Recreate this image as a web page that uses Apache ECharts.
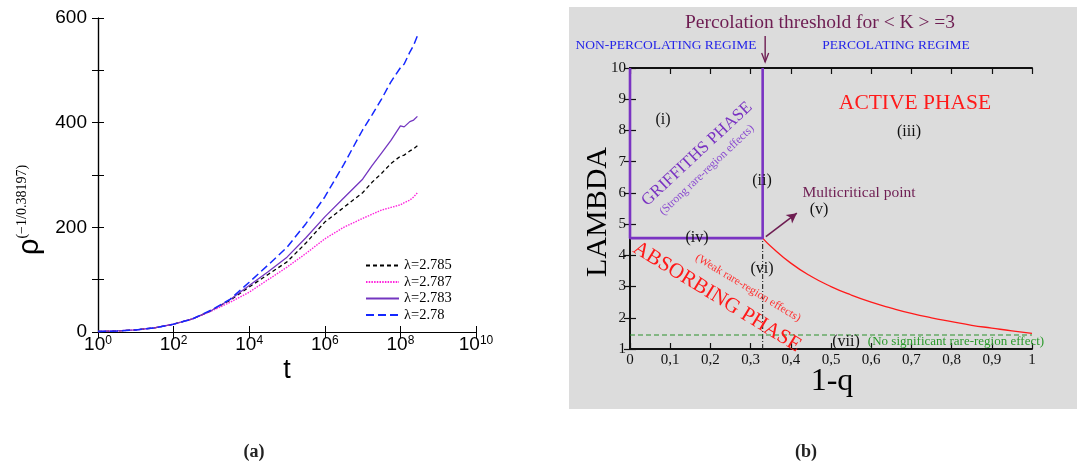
<!DOCTYPE html>
<html><head><meta charset="utf-8">
<script src="https://cdn.jsdelivr.net/npm/echarts@6/dist/echarts.min.js"></script>
<style>html,body{margin:0;padding:0;background:#fff}#c{width:1077px;height:465px}</style>
</head><body><div id="c"></div>
<script>
// ---------- Panel (a) data: x = log10(t) ----------
const xExpA = [0,0.5,1,1.5,2,2.5,3,3.5,4,4.5,5,5.5,6,6.5,7,7.25,7.5,7.75,8,8.1,8.25,8.35,8.45];
const rho2785 = [1,2,4,8,15,25,41,61,86,110,134,170,210,238,266,286,303,322,336,338,346,350,356];
const rho2787 = [1,2,4,8,15,25,40,57,76,100,124,150,178,200,217,225,233,238,243,247,252,258,266];
const rho2783 = [1,2,4,8,15,25,41,62,89,115,143,180,220,256,292,318,342,366,394,392,402,405,412];
const rho2780 = [1,2,4,8,15,25,42,63,95,128,162,207,258,320,386,415,445,478,505,512,535,548,566];
const legendA = ['λ=2.785','λ=2.787','λ=2.783','λ=2.78'];
const xTickExpA = [0,2,4,6,8,10];
const yTickLabelsA = ['0','','200','','400','','600'];

// ---------- Panel (b) data ----------
const qCurve = [0.33,0.35,0.4,0.45,0.5,0.55,0.6,0.65,0.7,0.75,0.8,0.85,0.9,0.95,1];
const lamCurve = [4.55,4.29,3.75,3.33,3.0,2.73,2.5,2.31,2.14,2.0,1.88,1.76,1.67,1.58,1.5];
const qGriff = [0,0,0.33,0.33];
const lamGriff = [10,4.55,4.55,10];
const qDashDot = [0.33,0.33];
const lamDashDot = [1,4.55];
const qGreen = [0,1];
const lamGreen = [1.45,1.45];
const arrowFrom = [0.338,4.6];
const arrowTo = [0.415,5.35];
const xTickLabelsB = ['0','0,1','0,2','0,3','0,4','0,5','0,6','0,7','0,8','0,9','1'];
const yTickLabelsB = ['1','2','3','4','5','6','7','8','9','10'];

const zip = (xs, ys) => xs.map((x,i)=>[x, ys[i]]);
const SANS = 'Liberation Sans, Arial, sans-serif';
const SERIF = 'Liberation Serif, Times New Roman, serif';
const MAROON = '#6e1d52';
const PURPLE = '#7a33c2';

const chart = echarts.init(document.getElementById('c'));

const axA = {
  axisLine:{lineStyle:{color:'#000', width:1.2}},
  axisTick:{inside:true, length:6, lineStyle:{color:'#000', width:1}},
  splitLine:{show:false}
};
const axB = {
  axisLine:{lineStyle:{color:'#111', width:2}},
  axisTick:{inside:true, length:6, lineStyle:{color:'#111', width:1.2}},
  splitLine:{show:false}
};

function txt(text, x, y, size, color, family, extra) {
  return Object.assign({
    type:'text', x:x, y:y, silent:true, z:50,
    style:{text:text, fontSize:size, fontFamily:family||SERIF, fill:color||'#000',
      align:'center', verticalAlign:'middle', textAlign:'center', textVerticalAlign:'middle'}
  }, extra||{});
}
const deg = d => d*Math.PI/180;

const option = {
  animation:false,
  backgroundColor:'#fff',
  grid:[
    {left:98, top:18, width:378, height:314},
    {left:630, top:68, width:402, height:281}
  ],
  xAxis:[
    Object.assign({type:'value', gridIndex:0, min:0, max:10, interval:2, position:'bottom',
      axisLabel:{margin:3, color:'#000', fontFamily:SANS,
        formatter:v=>'{b|10}{s|'+xTickExpA[Math.round(v/2)]+'}',
        rich:{b:{fontSize:19, fontFamily:SANS, color:'#000', verticalAlign:'bottom'},
              s:{fontSize:12, fontFamily:SANS, color:'#000', verticalAlign:'top'}}}}, axA),
    Object.assign({type:'value', gridIndex:0, min:0, max:10, interval:2, position:'top',
      axisLabel:{show:false}}, axA),
    Object.assign({type:'value', gridIndex:1, min:0, max:1, interval:0.1, position:'bottom',
      axisLabel:{margin:4, color:'#111', fontSize:15, fontFamily:SERIF,
        formatter:v=>xTickLabelsB[Math.round(v*10)]}}, axB),
    Object.assign({type:'value', gridIndex:1, min:0, max:1, interval:0.1, position:'top',
      axisLabel:{show:false}}, axB)
  ],
  yAxis:[
    Object.assign({type:'value', gridIndex:0, min:0, max:600, interval:100, position:'left',
      axisLabel:{margin:11, color:'#000', fontSize:19, fontFamily:SANS,
        formatter:v=>yTickLabelsA[Math.round(v/100)]}}, axA),
    Object.assign({type:'value', gridIndex:0, min:0, max:600, interval:100, position:'right',
      axisLabel:{show:false}}, axA),
    Object.assign({type:'value', gridIndex:1, min:1, max:10, interval:1, position:'left',
      axisLabel:{margin:4, color:'#111', fontSize:15, fontFamily:SERIF,
        formatter:v=>yTickLabelsB[Math.round(v)-1]}}, axB),
    Object.assign({type:'value', gridIndex:1, min:1, max:10, interval:1, position:'right',
      axisLabel:{show:false}}, axB)
  ],
  legend:{
    data:legendA, orient:'vertical', left:360, top:253, itemWidth:33, itemHeight:10, itemGap:1.5,
    itemStyle:{opacity:0},
    textStyle:{fontFamily:SERIF, fontSize:14.5, color:'#000', lineHeight:14},
    backgroundColor:'transparent', selectedMode:false
  },
  series:[
    {name:legendA[0], type:'line', xAxisIndex:0, yAxisIndex:0, data:zip(xExpA, rho2785), symbol:'none',
      lineStyle:{color:'#000', width:1.3, type:[4,3]}},
    {name:legendA[1], type:'line', xAxisIndex:0, yAxisIndex:0, data:zip(xExpA, rho2787), symbol:'none',
      lineStyle:{color:'#ff22dd', width:1.4, type:[1.5,1.2]}},
    {name:legendA[2], type:'line', xAxisIndex:0, yAxisIndex:0, data:zip(xExpA, rho2783), symbol:'none',
      lineStyle:{color:'#7436c0', width:1.3}},
    {name:legendA[3], type:'line', xAxisIndex:0, yAxisIndex:0, data:zip(xExpA, rho2780), symbol:'none',
      lineStyle:{color:'#1428ff', width:1.5, type:[8,4]}},
    {name:'griffiths', type:'line', xAxisIndex:2, yAxisIndex:2, data:zip(qGriff, lamGriff), symbol:'none',
      clip:false, z:5, lineStyle:{color:PURPLE, width:2.6}},
    {name:'boundary', type:'line', xAxisIndex:2, yAxisIndex:2, data:zip(qCurve, lamCurve), symbol:'none',
      smooth:true, lineStyle:{color:'#ff1a1a', width:1.3},
      markLine:{silent:true, symbol:['none','arrow'], symbolSize:[8,10], label:{show:false},
        lineStyle:{color:MAROON, width:1.6, type:'solid'},
        data:[[{coord:arrowFrom},{coord:arrowTo}]]}},
    {name:'dashdot', type:'line', xAxisIndex:2, yAxisIndex:2, data:zip(qDashDot, lamDashDot), symbol:'none',
      lineStyle:{color:'#222', width:1.1, type:[5,2,1,2]}},
    {name:'green', type:'line', xAxisIndex:2, yAxisIndex:2, data:zip(qGreen, lamGreen), symbol:'none',
      lineStyle:{color:'#2a8f2a', width:1.1, type:[5,3]}}
  ]
};
chart.setOption(option);

const pTop = chart.convertToPixel({gridIndex:1}, [0.33, 10]);
const ax = pTop[0] + 2.5;
const graphic = [
  {type:'rect', z:-10, silent:true, shape:{x:569, y:7, width:508, height:402}, style:{fill:'#dcdcdc'}},
  // panel (a) axis titles
  {type:'text', x:30, y:210, rotation:Math.PI/2, silent:true, z:50,
    style:{text:'{r|ρ}{s|(−1/0.38197)}', align:'center', verticalAlign:'middle', textAlign:'center', textVerticalAlign:'middle',
      rich:{r:{fontSize:29, fontFamily:SANS, fill:'#000', verticalAlign:'bottom'},
            s:{fontSize:14, fontFamily:SERIF, fill:'#000', verticalAlign:'top'}}}},
  txt('t', 287, 371, 27, '#000', SANS),
  // panel (b) texts
  txt('Percolation threshold for < K > =3', 820, 23, 19.5, MAROON),
  txt('NON-PERCOLATING REGIME', 666, 45, 13.5, '#2525e8'),
  txt('PERCOLATING REGIME', 896, 45, 13.5, '#2525e8'),
  txt('ACTIVE PHASE', 915, 103, 21.5, '#ff1a1a'),
  txt('(i)', 663, 120, 16, '#111'),
  txt('(iii)', 909, 132, 16, '#111'),
  txt('(ii)', 762, 181, 16, '#111'),
  txt('(iv)', 697, 238, 16, '#111'),
  txt('(v)', 819, 210, 16, '#111'),
  txt('(vi)', 762, 269, 16, '#111'),
  txt('(vii)', 846, 342, 16, '#111'),
  txt('Multicritical point', 859, 193, 15.5, MAROON),
  txt('(No significant rare-region effect)', 956, 342, 13, '#2a9a2a'),
  txt('GRIFFITHS PHASE', 697, 154, 17, PURPLE, SERIF, {rotation:deg(43)}),
  txt('(Strong rare-region effects)', 707, 170, 11.5, '#8a4ad0', SERIF, {rotation:deg(43.5)}),
  txt('ABSORBING PHASE', 717, 297, 21, '#ff1a1a', SERIF, {rotation:deg(-31.5)}),
  txt('(Weak rare-region effects)', 748, 288, 11.5, '#ff3030', SERIF, {rotation:deg(-31)}),
  txt('LAMBDA', 598, 212, 30, '#000', SERIF, {rotation:Math.PI/2}),
  txt('1-q', 832, 382, 32, '#000', SERIF),
  // percolation arrow
  {type:'line', silent:true, z:50, shape:{x1:ax, y1:36, x2:ax, y2:62}, style:{stroke:MAROON, lineWidth:1.4}},
  {type:'polyline', silent:true, z:50, shape:{points:[[ax-3.5,53],[ax,62],[ax+3.5,53]]}, style:{stroke:MAROON, lineWidth:1.3, fill:null}},
  // captions
  txt('(a)', 254, 452, 18, '#222', SERIF, {style:{text:'(a)', fontSize:18, fontWeight:'bold', fontFamily:SERIF, fill:'#222', align:'center', verticalAlign:'middle', textAlign:'center', textVerticalAlign:'middle'}}),
  txt('(b)', 806, 452, 18, '#222', SERIF, {style:{text:'(b)', fontSize:18, fontWeight:'bold', fontFamily:SERIF, fill:'#222', align:'center', verticalAlign:'middle', textAlign:'center', textVerticalAlign:'middle'}})
];
chart.setOption({graphic:graphic});
</script>
</body></html>
